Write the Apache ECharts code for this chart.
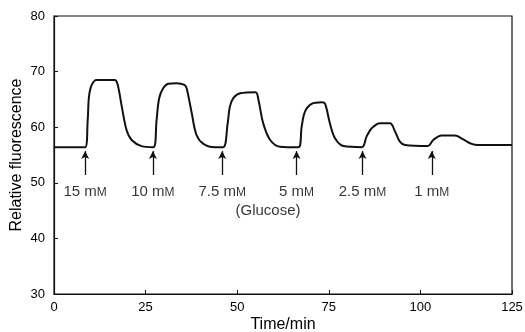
<!DOCTYPE html>
<html>
<head>
<meta charset="utf-8">
<script src="https://cdn.jsdelivr.net/npm/echarts@6/dist/echarts.min.js"></script>
<style>html,body{margin:0;padding:0;background:#fff;}#c{width:525px;height:332px;}</style>
</head>
<body>
<div id="c"></div>
<script>
// Time (min) and relative fluorescence
var times = [0, 8.5, 9.2, 9.55, 10.3, 11.6, 16.6, 17.4, 18.5, 19.8, 21.2, 23.9, 27.1,
  28.0, 28.7, 29.8, 31.2, 33.5, 35.6, 36.2, 37.6, 38.9, 40.8, 43.9, 46.2,
  47.4, 48.0, 48.9, 50.8, 55.0, 55.8, 57.1, 59.0, 61.7, 66.7,
  67.6, 68.5, 70.3, 73.1, 74.0, 75.3, 76.7, 79.0, 84.0,
  85.3, 86.7, 89.0, 91.7, 93.1, 94.4, 95.8, 102.0,
  103.5, 105.8, 109.4, 111.7, 114.0, 115.8, 125];
var fluorescence = [56.4, 56.4, 61.3, 65.5, 67.6, 68.5, 68.5, 67.6, 63.7, 59.5, 57.7, 56.6, 56.4,
  61.3, 65.2, 67.0, 67.8, 67.9, 67.6, 67.0, 62.5, 58.6, 57.0, 56.4, 56.4,
  60.7, 63.7, 65.2, 66.1, 66.3, 64.9, 60.7, 57.7, 56.5, 56.4,
  60.1, 62.8, 64.2, 64.5, 64.2, 60.7, 58.0, 56.6, 56.4,
  58.3, 59.8, 60.7, 60.7, 59.2, 57.4, 56.8, 56.6,
  57.7, 58.5, 58.5, 57.8, 57.0, 56.8, 56.8];
// Glucose additions
var injectionTimes = [8.5, 27.0, 45.9, 66.2, 84.2, 103.1];
var doseNumbers = ['15', '10', '7.5', '5', '2.5', '1'];
var xTicks = [0, 25, 50, 75, 100, 125];
var yTicks = [30, 40, 50, 60, 70, 80];

var arrowTail = 51.4, arrowTip = 55.7, labelY = 48.4;
var curve = times.map(function (t, i) { return [t, fluorescence[i]]; });
var arrows = injectionTimes.map(function (t) {
  return [{coord: [t, arrowTail]}, {coord: [t, arrowTip]}];
});
var labelPts = injectionTimes.map(function (t, i) {
  return {value: [t, labelY], name: doseNumbers[i]};
});

var font = '"Liberation Sans", Arial, Helvetica, sans-serif';
var chart = echarts.init(document.getElementById('c'), null, {renderer: 'canvas'});
chart.setOption({
  animation: false,
  backgroundColor: '#fff',
  grid: {left: 54, right: 13, top: 16, bottom: 38, show: true, borderColor: '#111', borderWidth: 1.2,
    containLabel: false, outerBoundsMode: 'none'},
  xAxis: {
    type: 'value', min: 0, max: 125, interval: 25,
    name: 'Time/min', nameLocation: 'middle', nameGap: 23, nameMoveOverlap: false,
    nameTextStyle: {fontFamily: font, fontSize: 16, color: '#000'},
    axisLine: {lineStyle: {color: '#111', width: 1.2}},
    axisTick: {inside: true, length: 4, lineStyle: {color: '#111'}},
    axisLabel: {fontFamily: font, fontSize: 13, color: '#000', margin: 7,
      formatter: function (v) { return xTicks.indexOf(v) >= 0 ? String(v) : ''; }},
    splitLine: {show: false}
  },
  yAxis: {
    type: 'value', min: 30, max: 80, interval: 10,
    name: 'Relative fluorescence', nameLocation: 'middle', nameGap: 29, nameMoveOverlap: false,
    nameTextStyle: {fontFamily: font, fontSize: 16, color: '#000'},
    axisLine: {lineStyle: {color: '#111', width: 1.2}},
    axisTick: {inside: true, length: 4, lineStyle: {color: '#111'}},
    axisLabel: {fontFamily: font, fontSize: 13, color: '#000', margin: 9,
      formatter: function (v) { return yTicks.indexOf(v) >= 0 ? String(v) : ''; }},
    splitLine: {show: false}
  },
  series: [
    {
      type: 'line', data: curve, showSymbol: false, smooth: 0.35,
      lineStyle: {color: '#111', width: 2}, z: 3,
      markLine: {
        silent: true, symbol: ['none', 'arrow'], symbolSize: [6, 8],
        label: {show: false},
        lineStyle: {color: '#111', width: 1.3, type: 'solid'},
        data: arrows
      }
    },
    {
      type: 'scatter', data: labelPts, symbolSize: 0, silent: true,
      label: {
        show: true, position: 'inside',
        formatter: function (p) { return '{a|' + p.name + ' m}{b|M}'; },
        rich: {
          a: {fontFamily: font, fontSize: 15, color: '#000'},
          b: {fontFamily: font, fontSize: 12, color: '#000', verticalAlign: 'bottom', padding: [0, 0, 1, 0]}
        }
      }
    },
    {
      type: 'scatter', data: [{value: [58.4, 45.0], name: '(Glucose)'}], symbolSize: 0, silent: true,
      label: {show: true, position: 'inside', formatter: '{b}', fontFamily: font, fontSize: 15, color: '#000'}
    }
  ]
});
</script>
</body>
</html>
